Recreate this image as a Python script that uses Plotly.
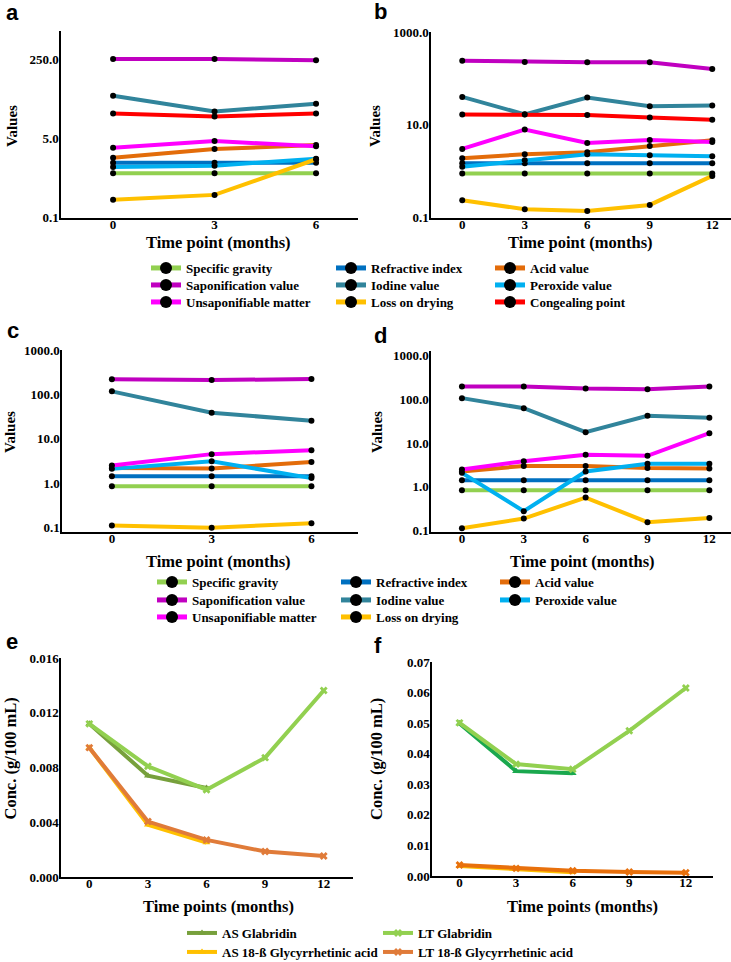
import plotly.graph_objects as go

W, H = 731, 962

# ---------------- data ----------------
months_short = [0, 3, 6]
months_long = [0, 3, 6, 9, 12]

names_ad = ["Specific gravity", "Refractive index", "Acid value",
            "Saponification value", "Iodine value", "Peroxide value",
            "Unsaponifiable matter", "Loss on drying", "Congealing point"]
colors_ad = {"Specific gravity": "#92D050", "Refractive index": "#0070C0",
             "Acid value": "#E36C0A", "Saponification value": "#C000C0",
             "Iodine value": "#31849B", "Peroxide value": "#00B0F0",
             "Unsaponifiable matter": "#FF00FF", "Loss on drying": "#FFC000",
             "Congealing point": "#FF0000"}

# panel a (0-6 months)
a_sg = [0.88, 0.88, 0.88]
a_ri = [1.47, 1.47, 1.48]
a_av = [1.89, 2.90, 3.53]
a_sv = [250, 250, 234]
a_iv = [40.7, 18.7, 27.4]
a_pv = [1.19, 1.27, 1.80]
a_um = [3.10, 4.31, 3.31]
a_lod = [0.236, 0.30, 1.75]
a_cp = [16.9, 14.6, 16.9]

# panel b (0-12 months)
b_sg = [0.89, 0.89, 0.89, 0.89, 0.89]
b_ri = [1.48, 1.48, 1.48, 1.48, 1.48]
b_av = [1.90, 2.31, 2.56, 3.50, 4.63]
b_sv = [241, 226, 222, 222, 160]
b_iv = [39.8, 16.8, 38.5, 25.0, 25.9]
b_pv = [1.24, 1.72, 2.31, 2.20, 2.10]
b_um = [3.02, 7.87, 4.06, 4.71, 4.27]
b_lod = [0.236, 0.151, 0.139, 0.187, 0.79]
b_cp = [16.6, 16.6, 16.3, 14.3, 12.9]

# panel c (0-6 months)
c_sg = [0.855, 0.855, 0.855]
c_ri = [1.44, 1.44, 1.44]
c_av = [2.2, 2.14, 2.98]
c_sv = [218, 210, 222]
c_iv = [117, 38.6, 25.5]
c_pv = [2.1, 3.13, 1.3]
c_um = [2.50, 4.51, 5.55]
c_lod = [0.111, 0.099, 0.125]

# panel d (0-12 months)
d_sg = [0.83, 0.83, 0.83, 0.83, 0.83]
d_ri = [1.40, 1.40, 1.40, 1.40, 1.40]
d_av = [2.22, 2.99, 2.99, 2.69, 2.60]
d_sv = [198, 198, 178, 172, 198]
d_iv = [107, 63, 17.7, 42, 37.8]
d_pv = [2.07, 0.273, 2.22, 3.33, 3.33]
d_um = [2.47, 3.83, 5.35, 5.08, 16.8]
d_lod = [0.111, 0.185, 0.562, 0.153, 0.192]

# panel e
e_as_glab = [0.01119, 0.00740, 0.00650]
e_lt_glab = [0.01119, 0.00809, 0.00638, 0.00872, 0.01363]
e_as_ga = [0.00945, 0.00381, 0.00252]
e_lt_ga = [0.00945, 0.00405, 0.00271, 0.00186, 0.00154]

# panel f
f_as_glab = [0.0499, 0.0343, 0.0336]
f_lt_glab = [0.0501, 0.0366, 0.0349, 0.0475, 0.0615]
f_as_ga = [0.0033, 0.0023, 0.0012]
f_lt_ga = [0.0036, 0.0025, 0.0017, 0.0013, 0.0011]

names_ef = ["AS Glabridin", "LT Glabridin", "AS 18-ß Glycyrrhetinic acid",
            "LT 18-ß Glycyrrhetinic acid"]

# ---------------- helpers ----------------
def px(x):
    return x / W

def py(y):
    return 1 - y / H

SERIF = "Liberation Serif"
SANS = "Liberation Sans"

fig = go.Figure()

panel_a = {"Specific gravity": a_sg, "Refractive index": a_ri, "Acid value": a_av,
           "Saponification value": a_sv, "Iodine value": a_iv, "Peroxide value": a_pv,
           "Unsaponifiable matter": a_um, "Loss on drying": a_lod, "Congealing point": a_cp}
panel_b = {"Specific gravity": b_sg, "Refractive index": b_ri, "Acid value": b_av,
           "Saponification value": b_sv, "Iodine value": b_iv, "Peroxide value": b_pv,
           "Unsaponifiable matter": b_um, "Loss on drying": b_lod, "Congealing point": b_cp}
panel_c = {"Specific gravity": c_sg, "Refractive index": c_ri, "Acid value": c_av,
           "Saponification value": c_sv, "Iodine value": c_iv, "Peroxide value": c_pv,
           "Unsaponifiable matter": c_um, "Loss on drying": c_lod}
panel_d = {"Specific gravity": d_sg, "Refractive index": d_ri, "Acid value": d_av,
           "Saponification value": d_sv, "Iodine value": d_iv, "Peroxide value": d_pv,
           "Unsaponifiable matter": d_um, "Loss on drying": d_lod}

# legend placement (text start x, centre y) in pixels
leg_cols_ab = [186, 371, 530]
leg_rows_ab = [268, 285, 302]
leg_cols_cd = [192, 376, 535]
leg_rows_cd = [582, 600, 617]
leg_cols_ef = [222, 418]
leg_rows_ef = [933, 952]

legend_layouts = {}
leg_counter = [0]

def new_legend(tx, ty, itemsizing):
    leg_counter[0] += 1
    n = leg_counter[0]
    key = "legend" if n == 1 else f"legend{n}"
    legend_layouts[key] = dict(
        x=px(tx - 40), y=py(ty), xanchor="left", yanchor="middle",
        bgcolor="rgba(0,0,0,0)", borderwidth=0, itemsizing=itemsizing,
        font=dict(family=SERIF, size=13, color="black", weight="bold"),
        itemclick=False, itemdoubleclick=False)
    return key


def add_panel(data, months, xa, ya, with_legend, cols, rows):
    for name in names_ad:
        if name not in data:
            continue
        kw = {}
        if with_legend:
            idx = names_ad.index(name)
            kw["legend"] = new_legend(cols[idx % 3], rows[idx // 3], "constant")
            kw["showlegend"] = True
        else:
            kw["showlegend"] = False
        fig.add_trace(go.Scatter(
            x=months, y=data[name], name=name, mode="lines+markers",
            line=dict(color=colors_ad[name], width=4),
            marker=dict(color="black", size=6, symbol="circle"),
            xaxis=xa, yaxis=ya, **kw))


add_panel(panel_a, months_short, "x", "y", True, leg_cols_ab, leg_rows_ab)
add_panel(panel_b, months_long, "x2", "y2", False, None, None)
add_panel(panel_c, months_short, "x3", "y3", True, leg_cols_cd, leg_rows_cd)
add_panel(panel_d, months_long, "x4", "y4", False, None, None)

# panels e and f
ef_specs = [
    ("AS Glabridin", e_as_glab, f_as_glab, months_short, "#77A03C", "#1AA84E", "triangle-up"),
    ("AS 18-ß Glycyrrhetinic acid", e_as_ga, f_as_ga, months_short, "#FFC000", "#FFC000", "triangle-up"),
    ("LT Glabridin", e_lt_glab, f_lt_glab, months_long, "#92D050", "#92D050", "x"),
    ("LT 18-ß Glycyrrhetinic acid", e_lt_ga, f_lt_ga, months_long, "#E07B39", "#E8700C", "x"),
]
for name, ev, fv, months, ce, cf, sym in ef_specs:
    idx = names_ef.index(name)
    key = new_legend(leg_cols_ef[idx % 2], leg_rows_ef[idx // 2], "trace")
    fig.add_trace(go.Scatter(
        x=months, y=ev, name=name, mode="lines+markers",
        line=dict(color=ce, width=4), marker=dict(color=ce, size=7, symbol=sym),
        xaxis="x5", yaxis="y5", legend=key, showlegend=True))
    fig.add_trace(go.Scatter(
        x=months, y=fv, name=name, mode="lines+markers",
        line=dict(color=cf, width=4), marker=dict(color=cf, size=7, symbol=sym),
        xaxis="x6", yaxis="y6", showlegend=False))

# ---------------- axes ----------------
tickfont = dict(family=SERIF, size=13, color="black", weight="bold")

def xaxis(domain, rng, vals, anchor):
    return dict(domain=[px(domain[0]), px(domain[1])], range=rng, anchor=anchor,
                tickmode="array", tickvals=vals, ticktext=[str(v) for v in vals],
                showline=True, linecolor="black", linewidth=1.5, ticks="",
                showgrid=False, zeroline=False, tickfont=tickfont,
                ticklabelstandoff=-6, fixedrange=True)

def yaxis(domain, rng, vals, text, anchor, log=True):
    d = dict(domain=[py(domain[1]), py(domain[0])], range=rng, anchor=anchor,
             tickmode="array", tickvals=vals, ticktext=text,
             showline=True, linecolor="black", linewidth=1.5, ticks="",
             showgrid=False, zeroline=False, tickfont=tickfont,
             ticklabelstandoff=-2, fixedrange=True)
    if log:
        d["type"] = "log"
    return d

log5 = [0.1, 1, 10, 100, 1000]
log5t = ["0.1", "1.0", "10.0", "100.0", "1000.0"]

fig.update_layout(
    xaxis=xaxis((61, 358), [-1.54, 7.24], months_short, "y"),
    yaxis=yaxis((31, 218), [-1.02, 3.0], [0.1, 5, 250], ["0.1", "5.0", "250.0"], "x"),
    xaxis2=xaxis((431, 731), [-1.5, 12.9], months_long, "y2"),
    yaxis2=yaxis((32, 218), [-1.01, 3.0], [0.1, 10, 1000], ["0.1", "10.0", "1000.0"], "x2"),
    xaxis3=xaxis((62, 358), [-1.5, 7.4], months_short, "y3"),
    yaxis3=yaxis((350, 532), [-1.1, 3.0], log5, log5t, "x3"),
    xaxis4=xaxis((431, 731), [-1.5, 13.05], months_long, "y4"),
    yaxis4=yaxis((351, 532), [-1.04, 3.11], log5, log5t, "x4"),
    xaxis5=xaxis((61, 353), [-1.45, 13.5], months_long, "y5"),
    yaxis5=yaxis((658, 877), [0, 0.016], [0, 0.004, 0.008, 0.012, 0.016],
                 ["0.000", "0.004", "0.008", "0.012", "0.016"], "x5", log=False),
    xaxis6=xaxis((432, 713), [-1.46, 13.44], months_long, "y6"),
    yaxis6=yaxis((662, 876), [0, 0.07], [0, 0.01, 0.02, 0.03, 0.04, 0.05, 0.06, 0.07],
                 ["0.00", "0.01", "0.02", "0.03", "0.04", "0.05", "0.06", "0.07"], "x6", log=False),
)

fig.update_layout(**legend_layouts)

# ---------------- text annotations ----------------
ann = []
def text(x, y, s, size, family=SERIF, angle=0, xanchor="center"):
    ann.append(dict(x=px(x), y=py(y), xref="paper", yref="paper", text=f"<b>{s}</b>",
                    showarrow=False, textangle=angle, xanchor=xanchor, yanchor="middle",
                    font=dict(family=family, size=size, color="black")))

# panel letters
for s, x, y in [("a", 4, 12.4), ("b", 372, 11.7), ("c", 5, 331), ("d", 372, 335.4),
                ("e", 4, 641.4), ("f", 372, 645.4)]:
    text(x, y, s, 22, family=SANS, xanchor="left")

# x titles
for x, y in [(218, 243), (580, 243), (218, 561), (582, 561)]:
    text(x, y, "Time point (months)", 16.5)
for x, y in [(218, 906), (582, 906)]:
    text(x, y, "Time points (months)", 16.5)

# y titles
for x, y in [(12, 126), (375, 126), (10, 432), (377, 432)]:
    text(x, y, "Values", 15, angle=-90)
for x, y in [(9.5, 759), (376, 759)]:
    text(x, y, "Conc. (g/100 mL)", 16.5, angle=-90)

fig.update_layout(
    annotations=ann,
    width=W, height=H,
    margin=dict(l=0, r=0, t=0, b=0, autoexpand=False),
    paper_bgcolor="white", plot_bgcolor="white",
    font=dict(family=SERIF, color="black"),
)

fig.write_html("out.html", config={"displayModeBar": False},
               post_script="document.body.style.margin='0px';")
